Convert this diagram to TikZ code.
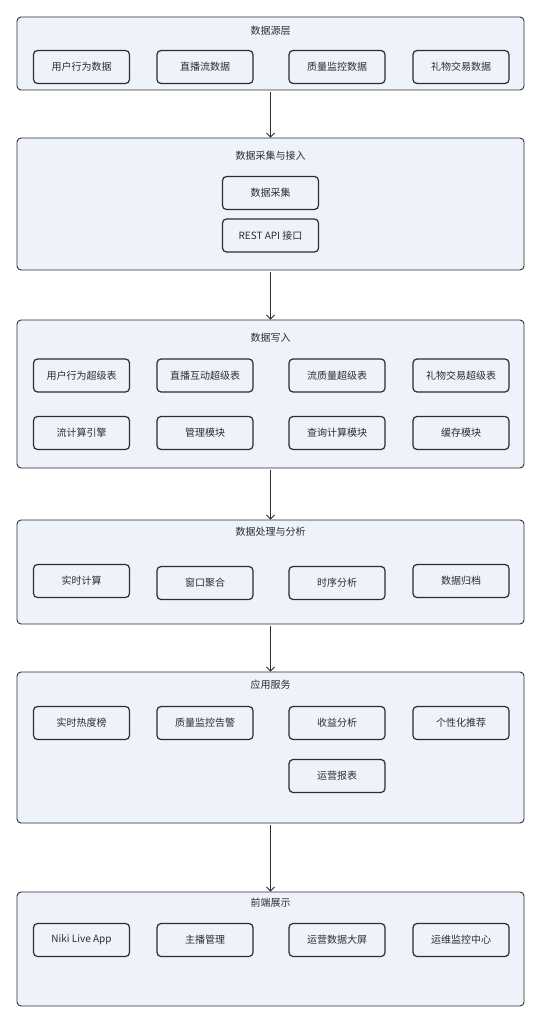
\documentclass[tikz,border=0pt]{standalone}
\usepackage{fontspec}
\setmainfont{Noto Sans CJK SC}
\usetikzlibrary{positioning,arrows.meta}
\definecolor{layerbg}{RGB}{238,242,251}
\definecolor{edge}{RGB}{45,45,45}

\begin{document}
\begin{tikzpicture}[
  x=1pt, y=-1pt,
  font=\fontsize{10}{12}\selectfont, text=edge,
  layer/.style={draw=edge, line width=0.9pt, rounded corners=4pt, fill=layerbg, minimum width=507pt},
  title/.style={inner sep=0pt},
  comp/.style={draw=edge, line width=1.2pt, rounded corners=4pt, fill=layerbg, minimum width=96pt, minimum height=33pt, inner sep=2pt},
  flow/.style={-{Straight Barb[length=4pt,width=8pt]}, line width=0.9pt, edge, shorten <=2pt}]
\useasboundingbox (0,0) rectangle (542,1024);
% layers
\node[layer, minimum height=73pt] (src) at (270.5,53.5) {};
\node[layer, minimum height=132pt] (ing) at (270.5,204) {};
\node[layer, minimum height=148pt] (wr) at (270.5,394) {};
\node[layer, minimum height=104pt] (proc) at (270.5,572) {};
\node[layer, minimum height=151pt] (app) at (270.5,747.5) {};
\node[layer, minimum height=114pt] (fe) at (270.5,949) {};
\node[title] (srct) at (270.5,31) {数据源层};
\node[title] (ingt) at (270.5,156) {数据采集与接入};
\node[title] (wrt) at (270.5,338) {数据写入};
\node[title] (proct) at (270.5,532) {数据处理与分析};
\node[title] (appt) at (270.5,685) {应用服务};
\node[title] (fet) at (270.5,903) {前端展示};
% data sources
\node[comp] (ud) at (81.5,67) {用户行为数据};
\node[comp] (sd) at (205,67) {直播流数据};
\node[comp] (qd) at (337,67) {质量监控数据};
\node[comp] (gd) at (461,67) {礼物交易数据};
% ingestion
\node[comp] (col) at (270.5,193) {数据采集};
\node[comp] (api) at (270.5,235.5) {REST API 接口};
% write
\node[comp] (ut) at (81.5,375.5) {用户行为超级表};
\node[comp] (it) at (205,375.5) {直播互动超级表};
\node[comp] (qt) at (337,375.5) {流质量超级表};
\node[comp] (gt) at (461,375.5) {礼物交易超级表};
\node[comp] (se) at (81.5,433) {流计算引擎};
\node[comp] (mm) at (205,433) {管理模块};
\node[comp] (qm) at (337,433) {查询计算模块};
\node[comp] (cm) at (461,433) {缓存模块};
% processing
\node[comp] (rc) at (81.5,581) {实时计算};
\node[comp] (wa) at (205,583) {窗口聚合};
\node[comp] (ta) at (337,583) {时序分析};
\node[comp] (da) at (461,581) {数据归档};
% services
\node[comp] (hot) at (81.5,723) {实时热度榜};
\node[comp] (qa) at (205,723) {质量监控告警};
\node[comp] (ra) at (337,723) {收益分析};
\node[comp] (rec) at (461,723) {个性化推荐};
\node[comp] (rep) at (337,776) {运营报表};
% front end
\node[comp] (app1) at (81.5,940) {Niki Live App};
\node[comp] (hm) at (205,940) {主播管理};
\node[comp] (scr) at (337,940) {运营数据大屏};
\node[comp] (mon) at (461,940) {运维监控中心};
% flow between layers
\draw[flow] (src) -- (ing);
\draw[flow] (ing) -- (wr);
\draw[flow] (wr) -- (proc);
\draw[flow] (proc) -- (app);
\draw[flow] (app) -- (fe);
\end{tikzpicture}
\end{document}
